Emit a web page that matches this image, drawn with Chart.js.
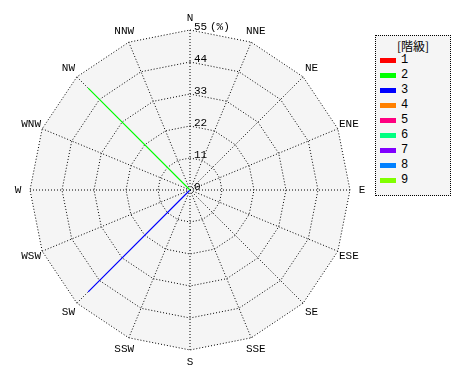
<!DOCTYPE html>
<html>
<head>
<meta charset="utf-8">
<script src="https://cdn.jsdelivr.net/npm/chart.js@4"></script>
<style>
  body { margin: 0; background: #fff; }
  #wrap { position: relative; width: 470px; height: 380px; }
  #legend {
    position: absolute; left: 375px; top: 35px; width: 74px; height: 159px;
    border: 1px dotted #000; background: #f5f5f5;
    font: 12px "Liberation Mono", "DejaVu Sans Mono", monospace; color: #000;
  }
  #legend .title { position: absolute; left: 0; width: 74px; top: 1px; text-align: center;
    font-family: "Noto Sans CJK JP", sans-serif; font-size: 12px; color: #000; }
  #legend .item { position: absolute; left: 4px; height: 14px; line-height: 14px; }
  #legend .bar { position: absolute; left: 0; top: 5px; width: 16px; height: 5px; }
  #legend .lab { position: absolute; left: 21px; top: 0; }
</style>
</head>
<body>
<div id="wrap">
  <canvas id="rose" width="470" height="380"></canvas>
  <div id="legend"></div>
</div>
<script>
const directions = ["N", "NNE", "NE", "ENE", "E", "ESE", "SE", "SSE",
  "S", "SSW", "SW", "WSW", "W", "WNW", "NW", "NNW"];
const classes = ["1", "2", "3", "4", "5", "6", "7", "8", "9"];
const classColors = ["#ff0000", "#00ff00", "#0000ff", "#ff8000", "#ff0080",
  "#00ff80", "#8000ff", "#0080ff", "#80ff00"];
const tickValues = [0, 11, 22, 33, 44, 55];

// frequency (%) per direction, one array per class
const class1 = [0, 0, 0, 0, 0, 0, 0, 0, 0, 0, 0, 0, 0, 0, 0, 0];
const class2 = [0, 0, 0, 0, 0, 0, 0, 0, 0, 0, 0, 0, 0, 0, 49.5, 0];
const class3 = [0, 0, 0, 0, 0, 0, 0, 0, 0, 0, 49.5, 0, 0, 0, 0, 0];
const class4 = [0, 0, 0, 0, 0, 0, 0, 0, 0, 0, 0, 0, 0, 0, 0, 0];
const class5 = [0, 0, 0, 0, 0, 0, 0, 0, 0, 0, 0, 0, 0, 0, 0, 0];
const class6 = [0, 0, 0, 0, 0, 0, 0, 0, 0, 0, 0, 0, 0, 0, 0, 0];
const class7 = [0, 0, 0, 0, 0, 0, 0, 0, 0, 0, 0, 0, 0, 0, 0, 0];
const class8 = [0, 0, 0, 0, 0, 0, 0, 0, 0, 0, 0, 0, 0, 0, 0, 0];
const class9 = [0, 0, 0, 0, 0, 0, 0, 0, 0, 0, 0, 0, 0, 0, 0, 0];
const classData = [class1, class2, class3, class4, class5, class6, class7, class8, class9];

const font = "'Liberation Mono', 'DejaVu Sans Mono', monospace";

// direction names centred a fixed distance outside the rim,
// tick labels to the right of the N axis, plus the unit
const roseText = {
  id: "roseText",
  afterDatasetsDraw(chart) {
    const r = chart.scales.r;
    const ctx = chart.ctx;
    ctx.save();
    ctx.fillStyle = "#000";
    ctx.textBaseline = "middle";
    ctx.font = "11px " + font;
    ctx.textAlign = "center";
    directions.forEach((d, i) => {
      const p = r.getPointPosition(i, r.drawingArea + 12);
      ctx.fillText(d, p.x, p.y);
    });
    ctx.textAlign = "left";
    tickValues.forEach(v => {
      const p = r.getPointPositionForValue(0, v);
      ctx.fillText(String(v), p.x + 4, p.y - 3);
      if (v === tickValues[tickValues.length - 1]) {
        ctx.fillText("(%)", p.x + 20, p.y - 3);
      }
    });
    ctx.restore();
  }
};

const datasets = classData.map((d, i) => ({
  label: classes[i],
  data: d,
  borderColor: classColors[i],
  backgroundColor: classColors[i],
  borderWidth: 1.2,
  pointRadius: 0,
  fill: false
}));

new Chart(document.getElementById("rose"), {
  type: "radar",
  data: { labels: directions, datasets },
  options: {
    responsive: false,
    animation: false,
    layout: { padding: { left: 30, top: 30, bottom: 30, right: 120 } },
    plugins: { legend: { display: false }, tooltip: { enabled: false } },
    scales: {
      r: {
        min: 0,
        max: 55,
        backgroundColor: "#f5f5f5",
        ticks: { stepSize: 11, display: false },
        grid: { color: "#000", lineWidth: 1 },
        border: { dash: [1, 2] },
        angleLines: { color: "#000", lineWidth: 1, borderDash: [1, 2] },
        pointLabels: { display: false }
      }
    }
  },
  plugins: [roseText]
});

let legendHtml = `<div class="title">[階級]</div>`;
classes.forEach((c, i) => {
  legendHtml += `<div class="item" style="top:${17 + i * 15}px">
    <span class="bar" style="background:${classColors[i]}"></span>
    <span class="lab">${c}</span></div>`;
});
document.getElementById("legend").innerHTML = legendHtml;
</script>
</body>
</html>
